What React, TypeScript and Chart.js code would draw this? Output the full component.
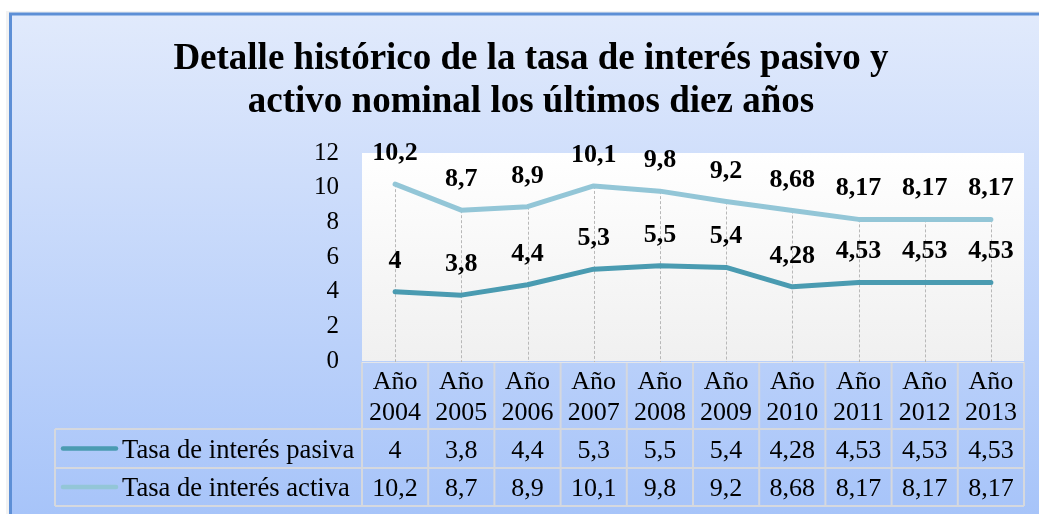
import { useEffect, useRef } from "react";
import { Chart, registerables } from "chart.js";

Chart.register(...registerables);

// ---- data ----
const categoryPrefix = "Año";
const years = ["2004", "2005", "2006", "2007", "2008", "2009", "2010", "2011", "2012", "2013"];
const pasiva = [4, 3.8, 4.4, 5.3, 5.5, 5.4, 4.28, 4.53, 4.53, 4.53];
const activa = [10.2, 8.7, 8.9, 10.1, 9.8, 9.2, 8.68, 8.17, 8.17, 8.17];
const seriesNames = ["Tasa de interés pasiva", "Tasa de interés activa"];
const titleLines = [
  "Detalle histórico de la tasa de interés pasivo y",
  "activo nominal los últimos diez años",
];
const yMin = 0;
const yMax = 12;
const yStep = 2;

const SERIF = '"Liberation Serif", "Times New Roman", serif';
const COLOR_PASIVA = "#4a9bb1";
const COLOR_ACTIVA = "#93c6d7";
const fmt = (v: number) => String(v).replace(".", ",");

const backgroundPlugin = {
  id: "bgPlugin",
  beforeDraw(chart: any) {
    const { ctx, chartArea: a, width, height } = chart;
    ctx.save();
    ctx.fillStyle = "#ffffff";
    ctx.fillRect(0, 0, width, height);
    ctx.fillStyle = "rgba(0,0,0,0.05)";
    ctx.fillRect(6, 11, width, height);
    const g = ctx.createLinearGradient(0, 14, 0, height);
    g.addColorStop(0, "#e1eafc");
    g.addColorStop(1, "#a7c4f9");
    ctx.fillStyle = g;
    ctx.fillRect(10, 14, width, height);
    ctx.strokeStyle = "#5d8fd6";
    ctx.lineWidth = 3;
    ctx.beginPath();
    ctx.moveTo(10.5, height + 5);
    ctx.lineTo(10.5, 14);
    ctx.lineTo(width + 5, 14);
    ctx.stroke();
    const pg = ctx.createLinearGradient(0, a.top, 0, a.bottom);
    pg.addColorStop(0, "#ffffff");
    pg.addColorStop(1, "#f0f0f0");
    ctx.fillStyle = pg;
    ctx.fillRect(a.left, a.top, a.right - a.left, a.bottom - a.top);
    ctx.restore();
  },
  beforeDatasetsDraw(chart: any) {
    // drop lines from highest point to the category axis
    const { ctx, chartArea: a } = chart;
    const xs = chart.scales.x;
    const ys = chart.scales.y;
    ctx.save();
    ctx.strokeStyle = "#b8b8b8";
    ctx.lineWidth = 1;
    ctx.setLineDash([3, 2]);
    years.forEach((_, i) => {
      const x = Math.round(xs.getPixelForValue(i)) + 0.5;
      const top = ys.getPixelForValue(Math.max(pasiva[i], activa[i]));
      ctx.beginPath();
      ctx.moveTo(x, top);
      ctx.lineTo(x, a.bottom + 2);
      ctx.stroke();
    });
    ctx.restore();
  },
  afterDatasetsDraw(chart: any) {
    const { ctx } = chart;
    ctx.save();
    ctx.fillStyle = "#000";
    ctx.font = `bold 26px ${SERIF}`;
    ctx.textAlign = "center";
    ctx.textBaseline = "alphabetic";
    chart.data.datasets.forEach((ds: any, di: number) => {
      const meta = chart.getDatasetMeta(di);
      meta.data.forEach((pt: any, i: number) => {
        ctx.fillText(fmt(ds.data[i]), pt.x, pt.y - 24);
      });
    });
    ctx.restore();
  },
  afterDraw(chart: any) {
    const { ctx, chartArea: a } = chart;
    const xs = chart.scales.x;
    const n = years.length;
    const colW = (a.right - a.left) / n;
    const legendLeft = 55;
    const headerTop = a.bottom + 1;
    const headerBottom = a.bottom + 68;
    const row1Bottom = a.bottom + 107;
    const row2Bottom = a.bottom + 145;
    ctx.save();
    // grid of table
    ctx.strokeStyle = "#d5d8de";
    ctx.lineWidth = 2;
    ctx.beginPath();
    [headerBottom, row1Bottom, row2Bottom].forEach((y) => {
      ctx.moveTo(legendLeft, y);
      ctx.lineTo(a.right, y);
    });
    for (let i = 0; i <= n; i++) {
      const x = a.left + i * colW;
      ctx.moveTo(x, headerTop);
      ctx.lineTo(x, row2Bottom);
    }
    ctx.moveTo(legendLeft, headerBottom);
    ctx.lineTo(legendLeft, row2Bottom);
    ctx.stroke();
    ctx.strokeStyle = "#e4e6ea";
    ctx.lineWidth = 1;
    ctx.beginPath();
    ctx.moveTo(a.left, headerTop + 0.5);
    ctx.lineTo(a.right, headerTop + 0.5);
    ctx.stroke();

    // header text
    ctx.fillStyle = "#000";
    ctx.font = `26px ${SERIF}`;
    ctx.textAlign = "center";
    ctx.textBaseline = "alphabetic";
    years.forEach((yr, i) => {
      const cx = xs.getPixelForValue(i);
      ctx.fillText(categoryPrefix, cx, a.bottom + 28);
      ctx.fillText(yr, cx, a.bottom + 59);
    });
    // rows
    const rows = [
      { name: seriesNames[0], data: pasiva, color: COLOR_PASIVA, top: headerBottom, bottom: row1Bottom },
      { name: seriesNames[1], data: activa, color: COLOR_ACTIVA, top: row1Bottom, bottom: row2Bottom },
    ];
    rows.forEach((r) => {
      const mid = (r.top + r.bottom) / 2;
      const base = mid + 9;
      ctx.font = `26px ${SERIF}`;
      ctx.textAlign = "center";
      r.data.forEach((v, i) => {
        ctx.fillText(fmt(v), xs.getPixelForValue(i), base);
      });
      ctx.strokeStyle = r.color;
      ctx.lineWidth = 4.5;
      ctx.lineCap = "round";
      ctx.beginPath();
      ctx.moveTo(63, mid);
      ctx.lineTo(116, mid);
      ctx.stroke();
      ctx.font = `26.6px ${SERIF}`;
      ctx.textAlign = "left";
      ctx.fillText(r.name, 122, base);
    });

    // title
    ctx.font = `bold 37px ${SERIF}`;
    ctx.textAlign = "center";
    ctx.fillText(titleLines[0], 531, 69);
    ctx.fillText(titleLines[1], 531, 112);
    ctx.restore();
  },
};

export default function App() {
  const ref = useRef<HTMLCanvasElement | null>(null);
  useEffect(() => {
    document.body.style.margin = "0";
    const canvas = ref.current;
    if (!canvas) return;
    const chart = new Chart(canvas, {
      type: "line",
      data: {
        labels: years.map((y) => `${categoryPrefix} ${y}`),
        datasets: [
          {
            label: seriesNames[0],
            data: pasiva,
            borderColor: COLOR_PASIVA,
            borderWidth: 5,
            pointRadius: 0,
            tension: 0,
            borderCapStyle: "round",
            borderJoinStyle: "round",
          },
          {
            label: seriesNames[1],
            data: activa,
            borderColor: COLOR_ACTIVA,
            borderWidth: 5,
            pointRadius: 0,
            tension: 0,
            borderCapStyle: "round",
            borderJoinStyle: "round",
          },
        ],
      },
      options: {
        responsive: false,
        animation: false,
        devicePixelRatio: 1,
        layout: { padding: { left: 0, top: 153, right: 15, bottom: 153 } },
        plugins: {
          legend: { display: false },
          title: { display: false },
          tooltip: { enabled: false },
        },
        scales: {
          x: {
            type: "category",
            offset: true,
            grid: { display: false },
            border: { display: false },
            ticks: { display: false },
            afterFit: (s: any) => {
              s.height = 0;
            },
          },
          y: {
            min: yMin,
            max: yMax,
            ticks: {
              stepSize: yStep,
              color: "#000",
              padding: 23,
              font: { family: SERIF, size: 25 },
            },
            grid: { display: false, drawTicks: false },
            border: { display: false },
            afterFit: (s: any) => {
              s.width = 362;
            },
          },
        },
      },
      plugins: [backgroundPlugin],
    } as any);
    return () => chart.destroy();
  }, []);
  return (
    <div style={{ position: "fixed", left: 0, top: 0, width: 1039, height: 514 }}>
      <canvas ref={ref} width={1039} height={514} style={{ width: 1039, height: 514, display: "block" }} />
    </div>
  );
}
